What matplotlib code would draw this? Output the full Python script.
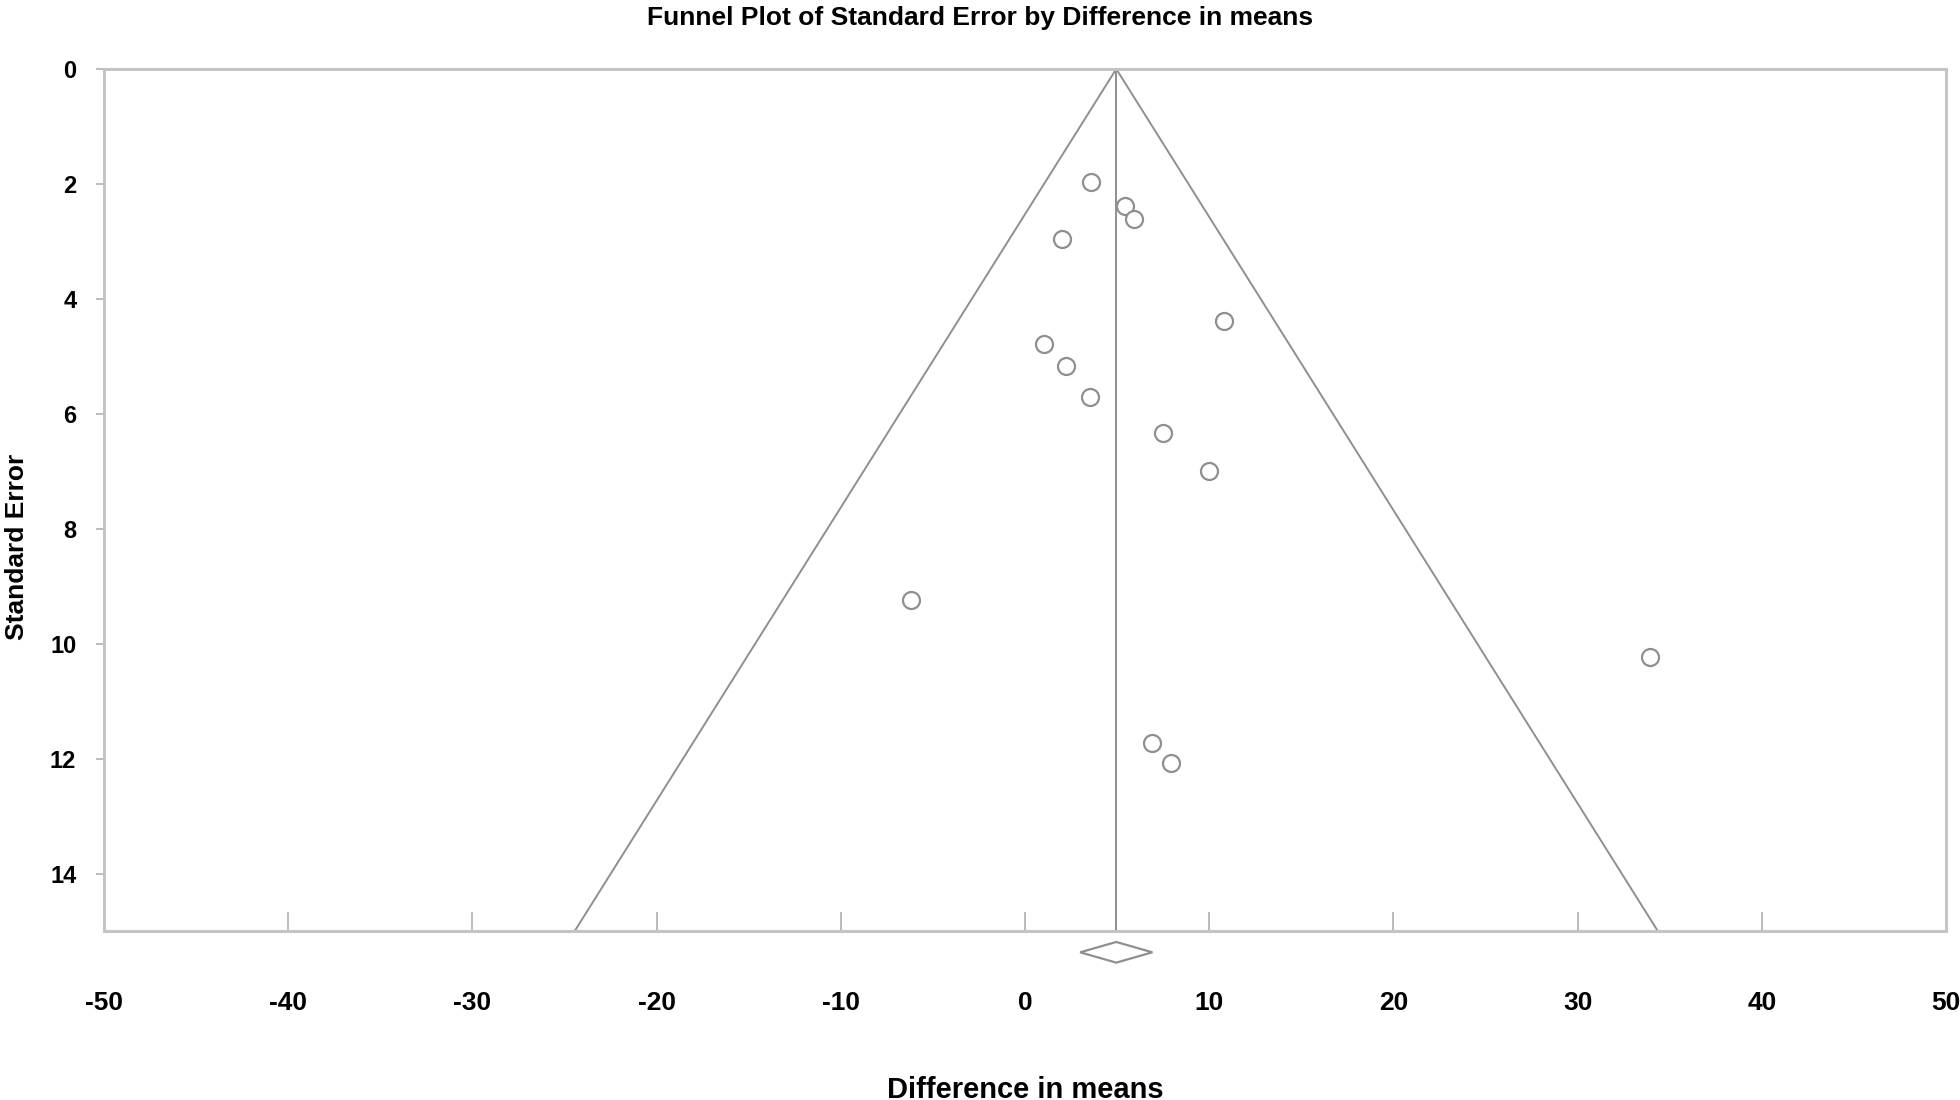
import numpy as np
import matplotlib
matplotlib.use("Agg")
import matplotlib.pyplot as plt
from matplotlib.font_manager import fontManager

names = {f.name for f in fontManager.ttflist}
narrow = "Liberation Sans Narrow" if "Liberation Sans Narrow" in names else "Liberation Sans"

# study estimates
diff_means = [3.6, 5.4, 5.9, 2.0, 10.8, 1.0, 2.2, 3.5, 7.5, 10.0, -6.2, 33.9, 6.9, 7.9]
std_error = [1.96, 2.38, 2.61, 2.96, 4.39, 4.78, 5.17, 5.70, 6.33, 7.00, 9.24, 10.24, 11.72, 12.07]

pooled_mean = 4.95
pooled_se = 1.0
se_max = 15
x_ticks = [-50, -40, -30, -20, -10, 0, 10, 20, 30, 40, 50]
y_ticks = [0, 2, 4, 6, 8, 10, 12, 14]

grey = "#8f8f8f"

fig = plt.figure(figsize=(19.6, 11), dpi=100)
ax = fig.add_axes([0.0531, 0.1536, 0.9398, 0.7837])

# funnel (95% pseudo confidence limits)
ax.plot([pooled_mean - 1.96 * se_max, pooled_mean, pooled_mean + 1.96 * se_max],
        [se_max, 0, se_max], color=grey, lw=1.4, clip_on=False)
ax.plot([pooled_mean, pooled_mean], [0, se_max], color=grey, lw=1.4)

ax.scatter(diff_means, std_error, s=150, facecolors="white", edgecolors=grey,
           linewidths=1.6, zorder=3)

# pooled estimate diamond below the axis
lo = pooled_mean - 1.96 * pooled_se
hi = pooled_mean + 1.96 * pooled_se
yd = 15.37
ax.fill([lo, pooled_mean, hi, pooled_mean], [yd, yd - 0.18, yd, yd + 0.18],
        facecolor="white", edgecolor=grey, lw=1.6, clip_on=False)

ax.set_xlim(-50, 50)
ax.set_ylim(15, 0)
ax.set_xticks(x_ticks)
ax.set_yticks(y_ticks)
ax.set_xticklabels([str(v) for v in x_ticks], family=narrow, fontweight="bold", fontsize=19)
ax.set_yticklabels([str(v) for v in y_ticks], family="Liberation Sans", fontweight="bold", fontsize=17)
ax.tick_params(axis="x", direction="in", length=14, width=1.2, color="#b0b0b0", pad=43)
ax.tick_params(axis="y", direction="out", length=6, width=1.2, color="#b0b0b0", pad=14)

for s in ax.spines.values():
    s.set_color("#c4c4c4")
    s.set_linewidth(2.2)

ax.set_xlabel("Difference in means", family=narrow, fontweight="bold", fontsize=21, labelpad=44)
ax.set_ylabel("Standard Error", family=narrow, fontweight="bold", fontsize=19)
ax.yaxis.set_label_coords(-0.0405, 0.446)
fig.suptitle("Funnel Plot of Standard Error by Difference in means", family=narrow,
             fontweight="bold", fontsize=19, y=0.995)

fig.savefig("out.png", dpi=100, facecolor="white")
